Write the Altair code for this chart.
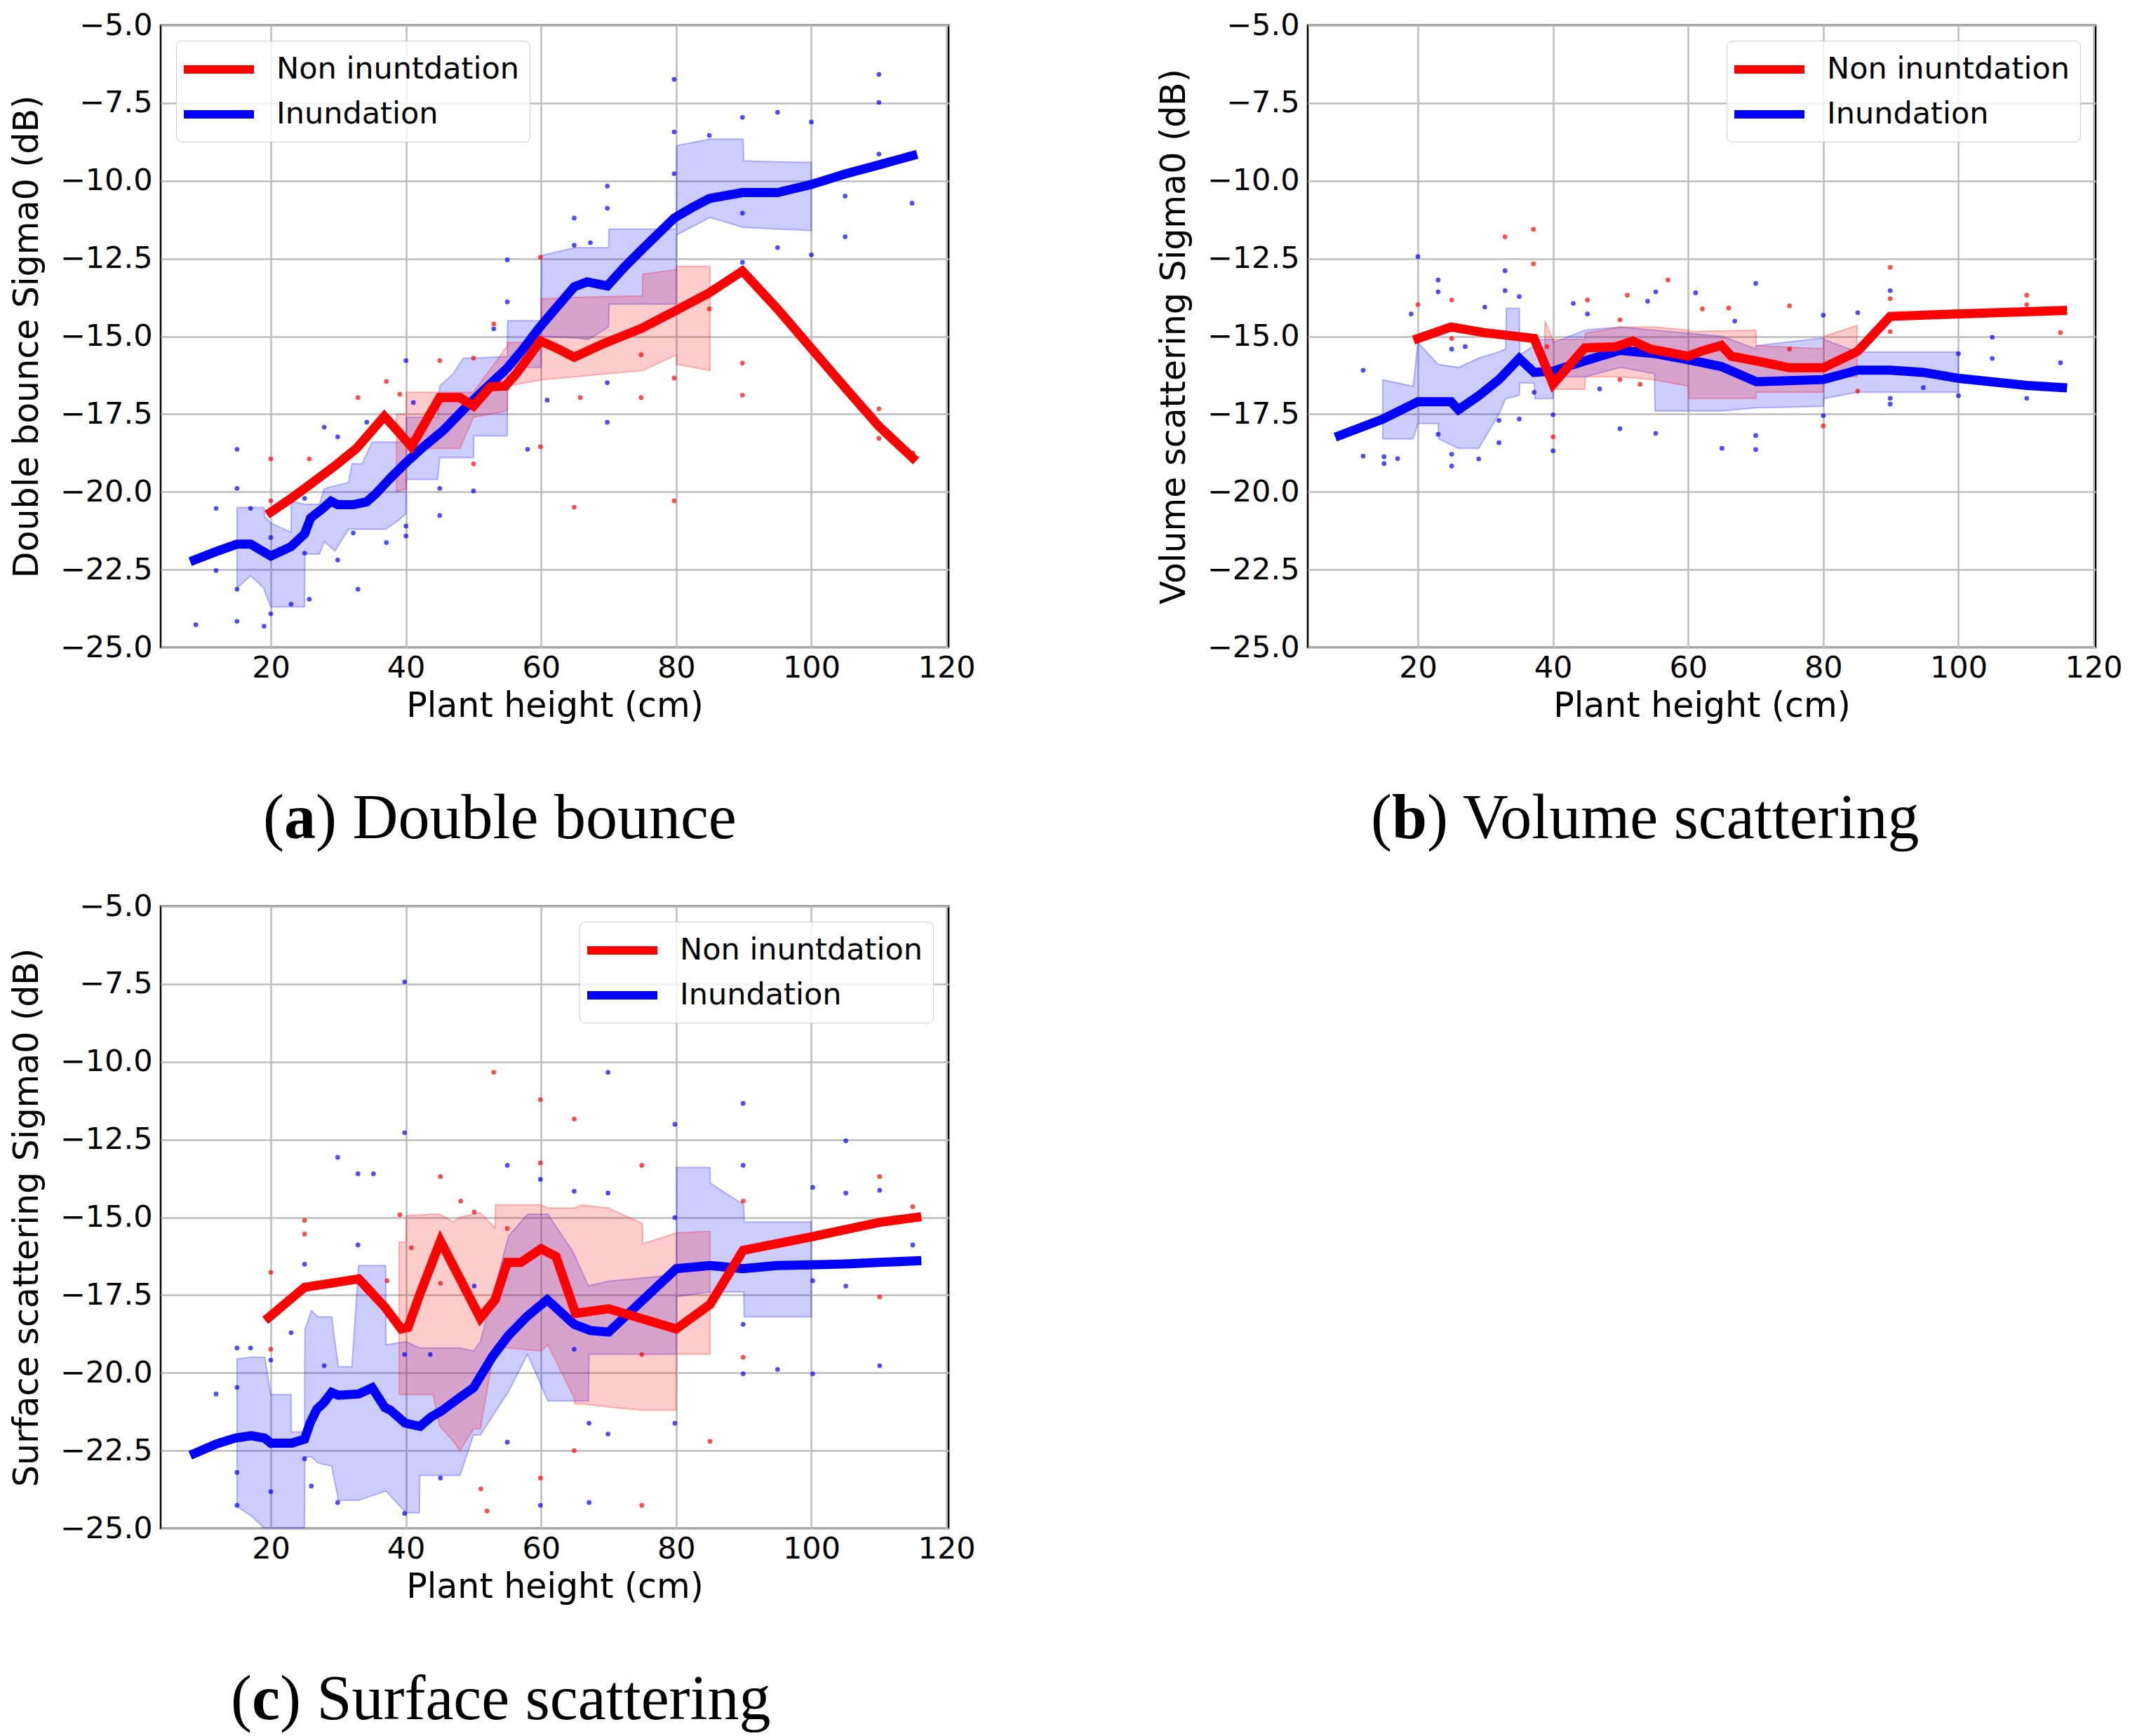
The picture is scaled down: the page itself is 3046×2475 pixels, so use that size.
import altair as alt
import pandas as pd

NI = "Non inuntdation"
IN = "Inundation"
GROUPS = [NI, IN]
COLORS = ["#ff0000", "#0000ff"]

X_TICKS = [20, 40, 60, 80, 100, 120]
Y_TICKS = [-25.0, -22.5, -20.0, -17.5, -15.0, -12.5, -10.0, -7.5, -5.0]
X_TITLE = "Plant height (cm)"
Y_TITLES = ["Double bounce Sigma0 (dB)", "Volume scattering Sigma0 (dB)", "Surface scattering Sigma0 (dB)"]
CAPTIONS = [("a", "Double bounce"), ("b", "Volume scattering"), ("c", "Surface scattering")]

# ---------------- Panel (a) Double bounce ----------------
a_in_x = [8.7, 11.9, 15.0, 17.0, 20.0, 23.0, 25.0, 25.9, 27.7, 28.9, 29.9, 32.2, 34.2, 35.6, 37.6, 40.0, 42.6, 45.5, 48.5, 51.5, 55.0, 57.4, 59.9, 62.4, 64.9, 66.8, 69.8, 72.3, 75.2, 79.7, 82.2, 84.9, 89.8, 95.0, 100.0, 105.0, 110.0, 115.0]
a_in_y = [-22.19, -21.92, -21.68, -21.68, -22.06, -21.76, -21.35, -20.84, -20.53, -20.30, -20.41, -20.41, -20.32, -20.05, -19.58, -19.06, -18.55, -18.03, -17.36, -16.73, -16.02, -15.39, -14.68, -14.04, -13.41, -13.25, -13.38, -12.78, -12.15, -11.20, -10.88, -10.57, -10.38, -10.38, -10.12, -9.78, -9.49, -9.19]
a_ni_x = [20.0, 22.8, 25.7, 29.7, 32.7, 35.1, 36.8, 38.6, 40.8, 43.1, 45.0, 48.0, 50.0, 52.5, 54.7, 56.4, 59.9, 62.4, 64.9, 69.3, 74.8, 79.7, 84.9, 89.8, 95.0, 100.0, 105.0, 110.0, 115.0]
a_ni_y = [-20.65, -20.24, -19.78, -19.13, -18.6, -18.0, -17.57, -18.0, -18.55, -17.68, -16.97, -16.97, -17.24, -16.62, -16.6, -16.18, -15.15, -15.39, -15.67, -15.23, -14.75, -14.2, -13.6, -12.9, -14.12, -15.39, -16.65, -17.89, -18.91]

a_in_band_x = [15.0, 17.0, 19.0, 19.1, 20.0, 23.0, 23.05, 25.0, 25.05, 27.2, 27.9, 29.5, 31.5, 32.0, 33.5, 35.0, 37.0, 39.0, 40.0, 40.05, 44.7, 45.0, 47.0, 48.5, 50.0, 50.05, 55.0, 55.05, 60.0, 60.05, 65.0, 67.0, 70.0, 70.05, 80.0, 80.05, 85.0, 89.9, 90.0, 95.0, 100.0]
a_in_band_lo = [-23.1, -22.7, -23.1, -23.2, -23.7, -23.7, -23.7, -23.7, -22.0, -22.0, -21.6, -21.9, -21.2, -21.2, -21.2, -21.2, -21.2, -20.9, -20.7, -19.6, -19.6, -18.9, -18.9, -18.9, -18.9, -18.2, -18.2, -16.0, -16.0, -15.0, -15.05, -15.1, -14.7, -13.96, -13.96, -11.74, -11.18, -11.5, -11.5, -11.55, -11.6]
a_in_band_hi = [-20.5, -20.5, -20.5, -20.8, -21.0, -21.3, -20.3, -20.4, -20.4, -20.4, -19.9, -19.8, -19.7, -19.1, -19.1, -18.4, -18.4, -18.4, -18.4, -17.6, -17.6, -16.6, -16.2, -15.7, -15.7, -15.7, -15.65, -14.5, -14.5, -12.4, -12.15, -12.15, -12.15, -11.55, -11.55, -8.87, -8.66, -8.66, -9.36, -9.39, -9.41]
a_ni_band_x = [38.6, 40.0, 40.05, 48.0, 50.0, 55.0, 55.05, 59.95, 60.0, 65.0, 75.0, 75.05, 80.0, 80.05, 85.0]
a_ni_band_lo = [-20.0, -19.9, -18.6, -18.6, -17.6, -17.4, -16.6, -16.4, -16.4, -16.3, -16.1, -16.1, -15.6, -15.9, -16.1]
a_ni_band_hi = [-17.5, -17.5, -16.8, -16.8, -16.8, -15.3, -15.2, -15.2, -13.8, -13.75, -13.7, -13.0, -12.85, -12.75, -12.75]

a_in_pts_x = [8.9, 11.9, 11.9, 15, 15, 15, 15, 17, 19, 20, 20, 23, 25, 25, 25.7, 27.9, 29.9, 29.9, 32.2, 32.9, 34.2, 37.1, 40, 40, 40, 41.1, 45, 45, 50, 53, 55, 55, 58, 60.9, 64.9, 64.9, 67.3, 69.8, 69.8, 69.8, 69.8, 79.7, 79.7, 79.7, 84.9, 89.8, 89.8, 89.8, 95, 95, 100, 100, 105, 105, 110, 110, 110, 114.9]
a_in_pts_y = [-24.27, -20.53, -22.53, -18.63, -19.89, -23.13, -24.16, -20.53, -24.32, -23.92, -21.47, -23.61, -20.21, -21.97, -23.45, -17.92, -18.23, -22.19, -21.32, -23.13, -17.76, -21.63, -15.78, -21.1, -21.42, -17.13, -19.89, -20.76, -19.97, -14.76, -12.54, -13.89, -18.63, -17.05, -11.2, -12.07, -11.99, -10.17, -10.88, -16.49, -17.76, -6.74, -8.43, -9.77, -8.54, -7.96, -11.04, -12.62, -7.8, -12.15, -8.11, -12.38, -10.49, -11.8, -6.58, -7.48, -9.14, -10.72]
a_ni_pts_x = [20, 20, 25.7, 32.9, 37.1, 39.1, 45, 50, 50, 53, 55, 59.9, 59.9, 64.9, 65.8, 74.8, 74.8, 79.7, 79.7, 84.9, 89.8, 89.8, 110, 110, 115]
a_ni_pts_y = [-18.94, -20.29, -18.94, -16.97, -16.45, -16.86, -15.78, -15.7, -19.1, -14.6, -16.65, -12.46, -18.55, -20.49, -16.97, -15.59, -16.97, -20.29, -16.34, -14.12, -15.86, -16.89, -17.33, -18.28, -18.75]

# ---------------- Panel (b) Volume scattering ----------------
b_in_x = [8.4, 14.8, 20.0, 24.9, 26.0, 29.0, 32.0, 35.0, 37.2, 40.0, 44.7, 49.9, 55.2, 60.0, 64.9, 70.1, 80.0, 85.1, 89.9, 94.8, 100.0, 110.1, 115.4]
b_in_y = [-18.19, -17.66, -17.1, -17.1, -17.36, -16.91, -16.39, -15.71, -16.16, -16.12, -15.79, -15.45, -15.56, -15.75, -15.97, -16.46, -16.39, -16.09, -16.09, -16.16, -16.35, -16.58, -16.65]
b_ni_x = [20.0, 24.9, 29.7, 37.2, 40.0, 42.4, 44.7, 49.2, 51.8, 54.4, 60.0, 61.9, 64.9, 66.4, 70.1, 75.0, 80.0, 85.1, 89.9, 100.0, 115.4]
b_ni_y = [-15.07, -14.7, -14.88, -15.07, -16.54, -15.94, -15.37, -15.34, -15.15, -15.41, -15.64, -15.48, -15.29, -15.64, -15.79, -16.01, -16.01, -15.48, -14.36, -14.28, -14.17]

b_in_band_x = [14.8, 19.3, 20.0, 23.0, 23.1, 26.0, 29.0, 32.0, 33.0, 33.1, 35.0, 35.1, 37.2, 37.3, 40.0, 40.1, 44.7, 50.0, 55.0, 55.1, 60.0, 65.0, 70.0, 70.1, 80.0, 80.1, 85.0, 90.0, 100.0]
b_in_band_lo = [-18.3, -18.3, -17.8, -17.8, -18.3, -18.6, -18.6, -17.5, -17.0, -17.0, -16.9, -16.5, -16.5, -17.0, -17.0, -16.3, -16.3, -16.0, -16.2, -17.4, -17.4, -17.4, -17.3, -17.3, -17.25, -17.0, -16.8, -16.8, -16.8]
b_in_band_hi = [-16.4, -16.6, -15.2, -15.9, -15.9, -16.0, -15.7, -15.5, -15.4, -14.1, -14.1, -15.6, -15.3, -15.1, -15.1, -15.2, -14.8, -14.7, -14.8, -14.8, -14.9, -15.0, -15.4, -15.3, -15.05, -15.1, -15.5, -15.5, -15.5]
b_ni_band_x = [38.8, 40.0, 44.7, 44.8, 50.0, 55.0, 60.0, 60.1, 70.0, 70.1, 80.0, 80.1, 85.0]
b_ni_band_lo = [-15.6, -16.7, -16.7, -16.3, -16.3, -16.4, -16.6, -17.0, -17.0, -16.8, -16.8, -16.3, -16.3]
b_ni_band_hi = [-14.5, -15.1, -15.1, -14.9, -14.7, -14.7, -14.8, -14.85, -14.8, -15.3, -15.4, -15.0, -14.65]

b_in_pts_x = [11.9, 11.9, 15, 15, 17, 19, 20, 23, 23, 23, 25, 25, 25, 27, 29, 29.9, 32, 32, 32.9, 32.9, 35, 35, 37.2, 40, 40, 43, 45.1, 46.9, 49.9, 54, 55.2, 55.2, 61.1, 65, 66.9, 70, 70, 70, 80, 80, 85.1, 89.9, 89.9, 89.9, 94.8, 100, 100, 105, 105, 110.1, 115.1]
b_in_pts_y = [-16.09, -18.85, -18.87, -19.09, -18.93, -14.28, -12.44, -13.19, -13.57, -18.15, -15.41, -18.79, -19.17, -15.33, -18.94, -14.06, -17.7, -18.42, -12.89, -13.53, -13.72, -17.66, -16.8, -17.52, -18.68, -13.94, -14.28, -16.69, -17.97, -13.87, -13.57, -18.12, -13.6, -18.6, -14.51, -13.3, -18.19, -18.64, -14.32, -17.55, -14.24, -13.53, -16.99, -17.18, -16.65, -15.56, -16.91, -15.03, -15.71, -16.99, -15.85]
b_ni_pts_x = [20, 25, 25, 32.9, 37.1, 37.1, 39.1, 40, 45.1, 49.9, 49.9, 51, 52.9, 57, 62.1, 66, 75, 75, 80, 85.1, 89.9, 89.9, 89.9, 110.1, 110.1, 115.1]
b_ni_pts_y = [-13.98, -13.83, -15.07, -11.8, -11.56, -12.67, -15.33, -18.23, -13.83, -14.47, -16.39, -13.68, -16.54, -13.19, -14.12, -14.09, -14.02, -15.41, -17.88, -16.76, -12.78, -13.79, -14.85, -13.68, -13.98, -14.88]

# ---------------- Panel (c) Surface scattering ----------------
c_in_x = [8.7, 11.9, 14.7, 17.1, 19.1, 20.0, 23.1, 25.0, 25.8, 26.8, 27.8, 29.0, 30.0, 33.0, 35.0, 36.9, 37.7, 39.9, 42.1, 43.7, 45.3, 48.1, 50.0, 52.8, 55.2, 57.9, 60.9, 64.9, 67.3, 70.0, 80.0, 85.0, 89.9, 94.9, 100.0, 105.1, 110.1, 115.6]
c_in_y = [-22.59, -22.29, -22.1, -22.02, -22.1, -22.26, -22.26, -22.13, -21.62, -21.17, -20.97, -20.63, -20.72, -20.68, -20.48, -21.12, -21.2, -21.62, -21.72, -21.42, -21.22, -20.77, -20.48, -19.48, -18.79, -18.19, -17.65, -18.44, -18.64, -18.69, -16.65, -16.55, -16.65, -16.55, -16.53, -16.5, -16.45, -16.4]
c_ni_x = [19.7, 25.0, 33.0, 36.9, 39.3, 40.3, 42.1, 45.1, 47.7, 51.0, 53.2, 55.0, 57.0, 60.0, 62.2, 65.1, 70.0, 80.0, 85.0, 89.9, 100.0, 110.1, 115.6]
c_ni_y = [-18.22, -17.25, -16.98, -17.89, -18.59, -18.54, -17.45, -15.76, -16.85, -18.24, -17.65, -16.45, -16.45, -16.01, -16.26, -18.09, -17.94, -18.59, -17.8, -16.06, -15.63, -15.16, -15.0]

c_in_band_x = [15.0, 17.1, 19.1, 20.0, 23.0, 23.05, 25.0, 25.05, 26.0, 27.0, 29.0, 30.0, 32.0, 33.0, 37.0, 37.05, 40.0, 42.0, 42.05, 48.0, 50.0, 51.0, 55.2, 58.0, 61.0, 64.7, 67.0, 67.1, 70.0, 80.0, 80.05, 85.0, 85.05, 90.0, 90.05, 100.0]
c_in_band_lo = [-24.3, -24.6, -25.0, -25.0, -25.0, -25.0, -25.0, -22.7, -22.7, -22.9, -23.0, -24.1, -24.1, -24.1, -23.8, -23.8, -24.5, -24.5, -23.3, -23.3, -22.0, -22.0, -20.6, -19.4, -20.9, -20.9, -20.9, -19.4, -19.4, -19.4, -17.55, -17.4, -17.4, -17.4, -18.2, -18.2]
c_in_band_hi = [-19.55, -19.5, -19.5, -20.7, -20.7, -21.9, -21.9, -18.6, -18.0, -18.2, -18.2, -19.8, -19.8, -16.55, -16.55, -19.1, -19.0, -19.2, -19.2, -19.2, -19.3, -19.0, -15.6, -14.9, -14.9, -16.1, -17.2, -17.2, -17.05, -16.85, -13.4, -13.4, -13.9, -14.6, -15.15, -15.15]
c_ni_band_x = [39.0, 40.0, 40.05, 44.0, 45.0, 47.0, 48.0, 50.0, 51.0, 53.2, 53.25, 55.0, 60.0, 61.0, 64.9, 65.0, 66.0, 70.0, 75.0, 75.05, 80.0, 80.05, 85.0]
c_ni_band_lo = [-20.7, -20.7, -20.7, -20.7, -21.7, -22.2, -22.5, -21.8, -21.8, -19.1, -19.1, -19.2, -19.3, -19.1, -20.8, -21.0, -21.0, -21.1, -21.2, -21.2, -21.2, -19.4, -19.4]
c_ni_band_hi = [-15.8, -15.8, -14.95, -14.9, -14.9, -15.15, -15.0, -14.9, -14.85, -15.35, -14.6, -14.6, -14.6, -14.7, -14.7, -14.7, -14.6, -14.7, -15.2, -15.85, -15.5, -15.5, -15.45]

c_in_pts_x = [11.9, 15, 15, 15, 15, 17, 20, 20, 23, 25, 25, 26, 27.9, 29.9, 29.9, 32.9, 32.9, 35.2, 37.2, 39.8, 39.8, 39.8, 39.8, 43.6, 45.1, 50.1, 55, 55, 59.9, 59.9, 64.9, 64.9, 67.1, 67.1, 69.9, 69.9, 69.9, 79.8, 79.8, 79.8, 89.9, 89.9, 89.9, 89.9, 95, 100.2, 100.2, 100.2, 105.1, 105.1, 105.1, 110.1, 110.1, 115]
c_in_pts_y = [-20.68, -19.2, -20.47, -23.2, -24.26, -19.2, -19.59, -23.82, -18.71, -16.51, -22.76, -23.64, -19.77, -13.07, -24.17, -13.6, -15.89, -13.6, -18.0, -7.43, -12.28, -19.41, -24.52, -19.41, -23.38, -17.21, -13.33, -22.23, -13.78, -24.26, -14.16, -19.24, -21.62, -24.17, -10.34, -14.22, -21.97, -12.01, -15.01, -21.62, -11.34, -13.33, -18.44, -20.03, -19.89, -14.04, -17.04, -20.03, -12.54, -14.22, -17.21, -14.13, -19.77, -15.89]
c_ni_pts_x = [20, 20, 25, 25, 37.2, 39.1, 40.8, 45.1, 45.1, 48.1, 50.1, 51.1, 52, 53, 55, 59.9, 59.9, 59.9, 64.9, 64.9, 74.9, 74.9, 74.9, 85, 89.9, 89.9, 110.1, 110.1, 115]
c_ni_pts_y = [-16.77, -19.24, -15.1, -15.54, -17.04, -14.92, -15.98, -13.69, -17.12, -14.48, -14.83, -23.73, -24.44, -10.34, -15.36, -11.22, -13.25, -23.38, -11.84, -22.5, -13.33, -19.41, -24.26, -22.2, -14.48, -19.5, -13.69, -17.56, -14.66]

PANELS = [
    dict(lines=[(a_ni_x, a_ni_y), (a_in_x, a_in_y)],
         bands=[(a_ni_band_x, a_ni_band_lo, a_ni_band_hi), (a_in_band_x, a_in_band_lo, a_in_band_hi)],
         pts=[(a_ni_pts_x, a_ni_pts_y), (a_in_pts_x, a_in_pts_y)],
         orient="top-left", cap_x=146),
    dict(lines=[(b_ni_x, b_ni_y), (b_in_x, b_in_y)],
         bands=[(b_ni_band_x, b_ni_band_lo, b_ni_band_hi), (b_in_band_x, b_in_band_lo, b_in_band_hi)],
         pts=[(b_ni_pts_x, b_ni_pts_y), (b_in_pts_x, b_in_pts_y)],
         orient="top-right", cap_x=90),
    dict(lines=[(c_ni_x, c_ni_y), (c_in_x, c_in_y)],
         bands=[(c_ni_band_x, c_ni_band_lo, c_ni_band_hi), (c_in_band_x, c_in_band_lo, c_in_band_hi)],
         pts=[(c_ni_pts_x, c_ni_pts_y), (c_in_pts_x, c_in_pts_y)],
         orient="top-right", cap_x=100),
]

W, H = 1123, 887
CAP_SIZE = 90
CAP_Y = 1159
BOLD_W = {"a": 0.5, "b": 0.556, "c": 0.444}

xscale = alt.Scale(domain=[3.7, 120.3], nice=False, zero=False)
yscale = alt.Scale(domain=[-25, -5], nice=False, zero=False)


def make_panel(i):
    p = PANELS[i]
    xax = alt.Axis(values=X_TICKS, title=X_TITLE, labelPadding=8, titlePadding=8, format="d")
    yax = alt.Axis(values=Y_TICKS, title=Y_TITLES[i], format=".1f", labelPadding=12, titlePadding=22)

    layers = []
    # bands: Inundation (blue) first, then Non inundation (red)
    for gi in [1, 0]:
        bx, blo, bhi = p["bands"][gi]
        df = pd.DataFrame({"x": bx, "lo": blo, "hi": bhi})
        layers.append(
            alt.Chart(df).mark_area(fill=COLORS[gi], fillOpacity=0.2, stroke=COLORS[gi],
                                    strokeOpacity=0.25, strokeWidth=2, clip=True)
            .encode(x=alt.X("x:Q", scale=xscale, axis=xax),
                    y=alt.Y("lo:Q", scale=yscale, axis=yax),
                    y2="hi:Q")
        )
    for gi in [1, 0]:
        px, py = p["pts"][gi]
        df = pd.DataFrame({"x": px, "y": py})
        layers.append(
            alt.Chart(df).mark_circle(color=COLORS[gi], size=45, opacity=0.7, clip=True)
            .encode(x=alt.X("x:Q", scale=xscale, axis=xax),
                    y=alt.Y("y:Q", scale=yscale, axis=yax))
        )
    rows = []
    for gi in [1, 0]:
        lx, ly = p["lines"][gi]
        for xv, yv in zip(lx, ly):
            rows.append({"x": xv, "y": yv, "group": GROUPS[gi]})
    ldf = pd.DataFrame(rows)
    legend = alt.Legend(title=None, orient=p["orient"], offset=22,
                        symbolType="M-1.5,0H3.5", symbolStrokeWidth=12, symbolSize=1600,
                        labelFont="DejaVu Sans", labelFontSize=43, labelColor="black",
                        labelLimit=2000, labelOffset=76, padding=15, rowPadding=14,
                        fillColor="rgba(255,255,255,0.8)", strokeColor="#cccccc",
                        cornerRadius=8)
    layers.append(
        alt.Chart(ldf).mark_line(strokeWidth=13, strokeCap="square", clip=True)
        .encode(x=alt.X("x:Q", scale=xscale, axis=xax),
                y=alt.Y("y:Q", scale=yscale, axis=yax),
                color=alt.Color("group:N", scale=alt.Scale(domain=GROUPS, range=COLORS),
                                sort=GROUPS, legend=legend),
                detail="group:N")
    )
    # caption "(x) Title" with the letter in bold
    letter, title = CAPTIONS[i]
    x0 = p["cap_x"]
    parts = [("(", x0, "normal"),
             (letter, x0 + 0.333 * CAP_SIZE, "bold"),
             (") " + title, x0 + (0.333 + BOLD_W[letter]) * CAP_SIZE, "normal")]
    for txt, xp, wt in parts:
        layers.append(
            alt.Chart(pd.DataFrame({"t": [txt]}))
            .mark_text(align="left", baseline="alphabetic", font="Liberation Serif",
                       fontSize=CAP_SIZE, fontWeight=wt, color="black")
            .encode(text="t:N", x=alt.value(xp), y=alt.value(CAP_Y))
        )
    return alt.layer(*layers).properties(width=W, height=H)


pa = make_panel(0)
pb = make_panel(1)
pc = make_panel(2)

top = alt.hconcat(pa, pb, spacing=255).resolve_scale(color="independent").resolve_legend(color="independent")
chart = (
    alt.vconcat(top, pc, spacing=54)
    .resolve_scale(color="independent")
    .resolve_legend(color="independent")
    .properties(padding={"left": 4, "top": 5, "right": 5, "bottom": 5}, background="white")
    .configure_view(stroke="black", strokeWidth=2.5)
    .configure_axis(labelFont="DejaVu Sans", labelFontSize=43, labelColor="black",
                    titleFont="DejaVu Sans", titleFontSize=49, titleFontWeight="normal",
                    titleColor="black", gridColor="#bcbcbc", gridWidth=2.5,
                    ticks=False, domain=False)
)

chart.save("out.html", embed_options={"renderer": "svg", "actions": False})
